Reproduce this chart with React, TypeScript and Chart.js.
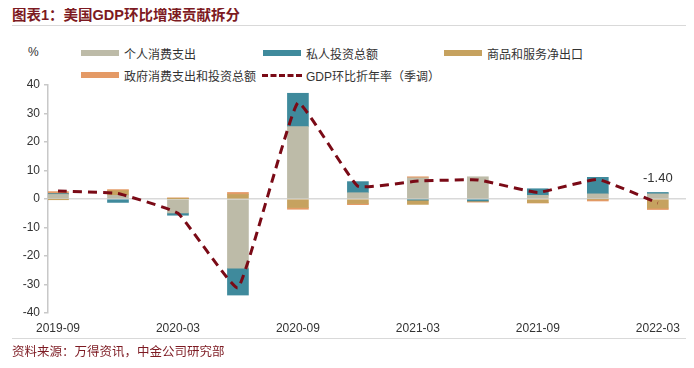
import React, { useEffect, useRef } from "react";
import { Chart, registerables } from "chart.js";

Chart.register(...registerables);

const categories = ["2019-09", "2019-12", "2020-03", "2020-06", "2020-09", "2020-12", "2021-03", "2021-06", "2021-09", "2021-12", "2022-03"];
const consumption = [1.6, 1.3, -4.9, -24.3, 25.4, 2.2, 7.4, 7.8, 1.3, 1.8, 1.8];
const investment = [0.3, -1.2, -0.8, -9.4, 11.7, 3.9, -0.4, -0.7, 2.3, 5.8, 0.5];
const netExports = [-0.1, 1.6, 0.1, 1.6, -3.0, -1.6, -1.5, -0.1, -1.3, -0.2, -3.2];
const government = [0.7, 0.4, 0.3, 0.7, -0.6, -0.4, 0.4, -0.3, -0.1, -0.5, -0.5];
const gdp = [2.8, 1.9, -5.0, -31.2, 33.8, 4.5, 6.3, 6.7, 2.3, 6.9, -1.4];
const yTicks = [-40, -30, -20, -10, 0, 10, 20, 30, 40];
const xTickIdx = [0, 2, 4, 6, 8, 10];

const seriesNames = ["个人消费支出", "私人投资总额", "商品和服务净出口", "政府消费支出和投资总额", "GDP环比折年率（季调）"];
const colors = ["#BDBBA8", "#3F8A9C", "#C6A25F", "#E49A66", "#7A0A16"];

const FONT = "'Liberation Sans', 'Noto Sans CJK SC', sans-serif";

export default function App() {
  const ref = useRef<HTMLCanvasElement | null>(null);

  useEffect(() => {
    if (!ref.current) return;
    const toXY = (arr: number[]) => arr.map((v, i) => ({ x: i, y: v }));
    const barSeries = [consumption, investment, netExports, government];
    const labelPlugin = {
      id: "lastLabel",
      afterDatasetsDraw(chart: any) {
        const last = gdp.length - 1;
        const pos = barSeries.reduce((s, a) => s + (a[last] > 0 ? a[last] : 0), 0);
        const xs = chart.scales.x;
        const ys = chart.scales.y;
        const ctx = chart.ctx;
        ctx.save();
        ctx.font = "13px " + FONT;
        ctx.fillStyle = "#333";
        ctx.textAlign = "center";
        ctx.textBaseline = "middle";
        ctx.fillText(gdp[last].toFixed(2), xs.getPixelForValue(last), ys.getPixelForValue(pos) - 14);
        ctx.restore();
      },
    };
    const chart = new Chart(ref.current, {
      type: "bar",
      data: {
        datasets: [
          ...barSeries.map((arr, k) => ({
            type: "bar" as const,
            label: seriesNames[k],
            data: toXY(arr),
            backgroundColor: colors[k],
            borderWidth: 0,
            barThickness: 21,
            stack: "bars",
            order: 1,
          })),
          {
            type: "line" as const,
            label: seriesNames[4],
            data: toXY(gdp),
            borderColor: colors[4],
            borderWidth: 3,
            borderDash: [9, 6],
            pointRadius: 0,
            tension: 0.1,
            fill: false,
            stack: "line",
            order: 0,
          },
        ],
      } as any,
      options: {
        responsive: false,
        animation: false,
        devicePixelRatio: 1,
        layout: { padding: { top: 85, right: 5, left: 0, bottom: 0 } },
        plugins: { legend: { display: false }, tooltip: { enabled: false } },
        scales: {
          x: {
            type: "linear",
            stacked: true,
            offset: false,
            min: -1 / 6,
            max: 10.52,
            grid: { display: false, drawTicks: false, offset: false },
            border: { display: false },
            afterBuildTicks: (scale: any) => {
              scale.ticks = xTickIdx.map((v) => ({ value: v }));
            },
            afterFit: (scale: any) => {
              scale.height = 55;
            },
            ticks: {
              padding: 8,
              maxRotation: 0,
              autoSkip: false,
              color: "#333",
              font: { size: 12, family: FONT },
              callback: (v: any) => categories[Number(v)] ?? "",
            },
          },
          y: {
            stacked: true,
            min: -40,
            max: 40,
            afterBuildTicks: (scale: any) => {
              scale.ticks = yTicks.map((v) => ({ value: v }));
            },
            afterFit: (scale: any) => {
              scale.width = 48;
            },
            grid: {
              color: (c: any) => (c.tick && c.tick.value === 0 ? "#d9d9d9" : "rgba(0,0,0,0)"),
              tickColor: "#c8c8c8",
              tickLength: 4,
              lineWidth: 1.5,
            },
            border: { color: "#c8c8c8", width: 1.5 },
            ticks: {
              padding: 4,
              color: "#333",
              font: { size: 12, family: FONT },
            },
          },
        },
      } as any,
      plugins: [labelPlugin],
    });
    return () => chart.destroy();
  }, []);

  const swatch = (k: number) =>
    k === 4 ? (
      <div style={{ width: 40, height: 0, borderTop: "3px dashed " + colors[4], marginRight: 4 }} />
    ) : (
      <div style={{ width: 38, height: 6, background: colors[k], marginRight: 5 }} />
    );

  const legendItems = [
    { k: 0, left: 81, top: 45 },
    { k: 1, left: 263, top: 45 },
    { k: 2, left: 444, top: 45 },
    { k: 3, left: 81, top: 67 },
    { k: 4, left: 262, top: 67 },
  ];

  return (
    <div style={{ position: "relative", width: 694, height: 368, margin: -8, overflow: "hidden", background: "#fff", fontFamily: FONT }}>
      <div style={{ position: "absolute", left: 12, top: 5, fontSize: 14.5, fontWeight: "bold", color: "#7D1A22", lineHeight: "20px", whiteSpace: "nowrap" }}>
        图表1：美国GDP环比增速贡献拆分
      </div>
      <div style={{ position: "absolute", left: 12, top: 25, width: 677, height: 1, background: "#d9d9d9" }} />
      <div style={{ position: "absolute", left: 28, top: 44, fontSize: 12, color: "#333", lineHeight: "16px" }}>%</div>
      {legendItems.map((it) => (
        <div key={it.k} style={{ position: "absolute", left: it.left, top: it.top, height: 16, display: "flex", alignItems: "center", fontSize: 12, color: "#333", whiteSpace: "nowrap" }}>
          {swatch(it.k)}
          <span>{seriesNames[it.k]}</span>
        </div>
      ))}
      <canvas ref={ref} width={694} height={368} style={{ position: "absolute", left: 0, top: 0, width: 694, height: 368 }} />
      <div style={{ position: "absolute", left: 12, top: 338, width: 677, height: 1, background: "#d9d9d9" }} />
      <div style={{ position: "absolute", left: 12, top: 343, fontSize: 12.5, color: "#7D1A22", lineHeight: "18px", whiteSpace: "nowrap" }}>
        资料来源：万得资讯，中金公司研究部
      </div>
    </div>
  );
}
